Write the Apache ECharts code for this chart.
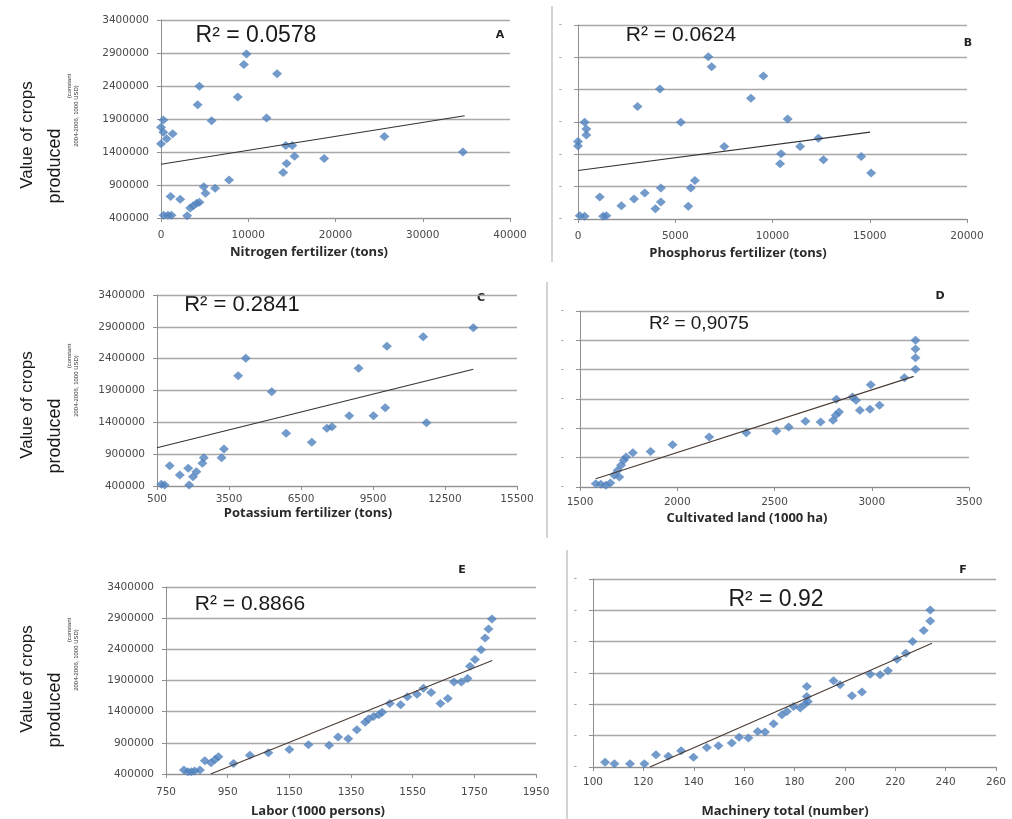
<!DOCTYPE html>
<html><head><meta charset="utf-8">
<script src="https://cdn.jsdelivr.net/npm/echarts@6/dist/echarts.min.js"></script>
<style>html,body{margin:0;padding:0;background:#fff}#c{width:1012px;height:819px}</style>
</head><body><div id="c"></div>
<script>
// ---------- DATA ----------
const yTicks = [400000, 900000, 1400000, 1900000, 2400000, 2900000, 3400000];

const nitrogenX = [270,0,270,1340,650,0,300,800,1200,1100,2200,3000,3350,3700,4100,4400,4900,5100,6200,7800,4200,4400,5800,8800,9500,9800,13300,12100,14300,15050,15300,14400,14000,18700,25600,34600];
const nitrogenY = [1885000,1775000,1700000,1675000,1600000,1525000,440000,440000,440000,725000,685000,435000,550000,585000,625000,640000,875000,775000,850000,975000,2115000,2395000,1875000,2235000,2725000,2885000,2585000,1915000,1500000,1500000,1335000,1225000,1090000,1300000,1635000,1400000];
const nitrogenTrend = [[0,1215000],[34800,1950000]];

const phosphorusX = [340,430,430,0,0,90,340,1290,1460,1120,2230,2880,3430,3980,4260,4260,5670,5800,6010,3060,4210,5290,6700,6870,7520,8890,9530,10780,10440,10390,11420,12360,12620,14560,15070];
const phosphorusY = [1897000,1790000,1700000,1600000,1530000,451000,441000,441000,451000,740000,606000,709000,801000,560000,662000,878000,596000,878000,997000,2139000,2411000,1897000,2910000,2756000,1521000,2267000,2612000,1948000,1408000,1254000,1521000,1650000,1316000,1367000,1110000];
const phosphorusTrend = [[0,1151000],[15020,1743000]];

const potassiumX = [680,820,1030,1450,1800,1840,2000,2140,2390,2450,3190,3290,3880,4200,5280,5880,6950,7580,7790,8510,8900,9520,10010,10080,11590,11730,13680];
const potassiumY = [426000,416000,719000,573000,677000,416000,547000,625000,756000,845000,845000,981000,2133000,2405000,1882000,1227000,1086000,1306000,1332000,1505000,2248000,1505000,1630000,2594000,2746000,1395000,2887000];
const potassiumTrend = [[500,1000000],[13680,2235000]];

const landX = [1581,1607,1633,1656,1676,1702,1694,1711,1725,1737,1772,1863,1976,2164,2355,2510,2573,2659,2737,2801,2815,2832,2818,2901,2919,2939,2991,3040,2995,3168,3225,3225,3225,3225];
const landY = [457000,445000,428000,468000,599000,570000,684000,769000,855000,911000,985000,1007000,1121000,1252000,1326000,1355000,1423000,1520000,1508000,1536000,1622000,1679000,1895000,1934000,1877000,1707000,1724000,1792000,2144000,2263000,2406000,2605000,2752000,2900000];
const landTrend = [[1581,542000],[3216,2286000]];

const laborX = [808,821,832,843,860,876,896,909,920,969,1022,1082,1150,1212,1279,1308,1341,1369,1396,1407,1423,1440,1451,1476,1511,1533,1564,1585,1610,1640,1664,1684,1708,1728,1736,1752,1772,1785,1796,1807];
const laborY = [463000,437000,437000,448000,463000,612000,580000,633000,675000,569000,702000,739000,792000,871000,860000,993000,966000,1109000,1231000,1284000,1321000,1352000,1389000,1532000,1511000,1638000,1680000,1776000,1707000,1532000,1612000,1876000,1876000,1934000,2130000,2236000,2395000,2580000,2728000,2887000];
const laborTrend = [[895,400000],[1808,2220000]];

const machineryX = [104.8,108.5,114.7,120.4,125.0,129.9,135.0,139.9,145.2,149.8,155.1,158.0,161.7,165.4,168.3,171.7,175.0,177.0,179.6,182.3,184.2,184.9,184.9,185.3,195.5,198.1,202.8,206.8,210.1,214.0,217.1,220.7,224.2,226.9,231.3,233.9,233.9];
const machineryY = [474000,453000,453000,453000,596000,570000,660000,554000,713000,740000,782000,873000,862000,968000,958000,1090000,1234000,1287000,1366000,1340000,1404000,1526000,1685000,1446000,1775000,1712000,1536000,1595000,1881000,1871000,1935000,2120000,2216000,2402000,2577000,2731000,2906000];
const machineryTrend = [[122.6,400000],[234.6,2375000]];

const xNames = ['Nitrogen fertilizer (tons)','Phosphorus fertilizer (tons)','Potassium fertilizer (tons)','Cultivated land (1000 ha)','Labor (1000 persons)','Machinery total (number)'];
const r2Labels = ['R\u00b2 = 0.0578','R\u00b2 = 0.0624','R\u00b2 = 0.2841','R\u00b2 = 0,9075','R\u00b2 = 0.8866','R\u00b2 = 0.92'];
const panelLetters = ['A','B','C','D','E','F'];
const xRanges = [[0,40000,10000],[0,20000,5000],[500,15500,3000],[1500,3500,500],[750,1950,200],[100,260,20]];

// ---------- LAYOUT ----------
const grids = [
  {left:161, top:20, width:349, height:198},
  {left:578, top:25, width:389, height:194},
  {left:157, top:295, width:360, height:191},
  {left:580, top:311, width:389, height:176},
  {left:166, top:587, width:370, height:187},
  {left:593, top:579, width:403, height:188}
];
const xLabelMargin = [12,12,8,10,13,10];
const isLeft = [true,false,true,false,true,false];
const xsAll = [nitrogenX, phosphorusX, potassiumX, landX, laborX, machineryX];
const ysAll = [nitrogenY, phosphorusY, potassiumY, landY, laborY, machineryY];
const trends = [nitrogenTrend, phosphorusTrend, potassiumTrend, landTrend, laborTrend, machineryTrend];
const trendColor = ['#333333','#333333','#333333','#4a3a32','#4a3a32','#4a3a32'];

const xAxes = xRanges.map((r,i)=>({
  type:'value', gridIndex:i, min:r[0], max:r[1], interval:r[2],
  axisLine:{show:true, onZero:false, lineStyle:{color:'#8f8f8f', width:1}},
  axisTick:{show:true, length:4, lineStyle:{color:'#8f8f8f'}},
  splitLine:{show:false},
  axisLabel:{fontFamily:'DejaVu Sans', fontSize:10.5, color:'#4a4a4a', margin:xLabelMargin[i], formatter:v=>String(v)}
}));
const yAxes = grids.map((g,i)=>({
  type:'value', gridIndex:i, min:yTicks[0], max:yTicks[yTicks.length-1], interval:yTicks[1]-yTicks[0],
  axisLine:{show:true, lineStyle:{color:'#8f8f8f', width:1}},
  axisTick:{show:true, length:4, lineStyle:{color:'#8f8f8f'}},
  splitLine:{show:true, lineStyle:{color:'#a8a8a8', width:1.3}},
  axisLabel: isLeft[i]
    ? {fontFamily:'DejaVu Sans', fontSize:10.5, color:'#4a4a4a', margin:12, formatter:v=>String(v)}
    : {fontFamily:'DejaVu Sans', fontSize:9, color:'#8a8a8a', margin:16, formatter:()=>'-'}
}));

const series = [];
xsAll.forEach((xs,i)=>{
  series.push({type:'scatter', xAxisIndex:i, yAxisIndex:i, symbol:'diamond', symbolSize:[10,9],
    itemStyle:{color:'#4F81BD'}, data: xs.map((x,k)=>[x, ysAll[i][k]]), z:3});
  series.push({type:'line', xAxisIndex:i, yAxisIndex:i, showSymbol:false, symbol:'none', clip:true,
    lineStyle:{color:trendColor[i], width:1.1}, data: trends[i], z:4, silent:true});
});

// ---------- TEXT / DECORATION ----------
const g = [];
function txt(t,x,y,font,fill,extra){ g.push(Object.assign({type:'text', x:x, y:y, style:{text:t, font:font, fill:fill||'#222', textAlign:'center', textVerticalAlign:'middle'}}, extra||{})); }
const r2Pos = [[256,36,'23px "Liberation Sans"'],[681,35,'21px "Liberation Sans"'],[242,305,'22px "Liberation Sans"'],[699,324,'19px "Liberation Sans"'],[250,604,'21px "Liberation Sans"'],[776,600,'23px "Liberation Sans"']];
r2Pos.forEach((p,i)=>txt(r2Labels[i],p[0],p[1],p[2],'#1a1a1a'));
const letterPos = [[500,35],[968,43],[481,298],[940,296],[462,570],[963,570]];
letterPos.forEach((p,i)=>txt(panelLetters[i],p[0],p[1],'bold 11px "DejaVu Sans"','#222'));
const namePos = [[309,252],[738,253],[308,513],[747,518],[318,811],[785,811]];
namePos.forEach((p,i)=>txt(xNames[i],p[0],p[1],'bold 13px "Open Sans"','#2a2a2a'));
// y titles for left panels
[0,270,544].forEach(dy=>{
  txt('Value of crops',27,135+dy,'17px "Liberation Sans Narrow","Liberation Sans"','#1a1a1a',{rotation:Math.PI/2});
  txt('produced',55,166+dy,'18px "Liberation Sans Narrow","Liberation Sans"','#1a1a1a',{rotation:Math.PI/2});
  txt('(constant',69,86+dy,'6px "Liberation Sans"','#333',{rotation:Math.PI/2});
  txt('2004-2006, 1000 USD)',76,116+dy,'6px "Liberation Sans"','#333',{rotation:Math.PI/2});
});
// panel separators
[[552,6,262],[547,282,538],[567,550,819]].forEach(s=>{
  g.push({type:'line', shape:{x1:s[0],y1:s[1],x2:s[0],y2:s[2]}, style:{stroke:'#d4d4d4', lineWidth:2}});
});

const chart = echarts.init(document.getElementById('c'), null, {renderer:'canvas'});
chart.setOption({
  animation:false,
  backgroundColor:'#ffffff',
  grid: grids.map(gr=>Object.assign({containLabel:false}, gr)),
  xAxis: xAxes, yAxis: yAxes, series: series, graphic: g
});
</script></body></html>
